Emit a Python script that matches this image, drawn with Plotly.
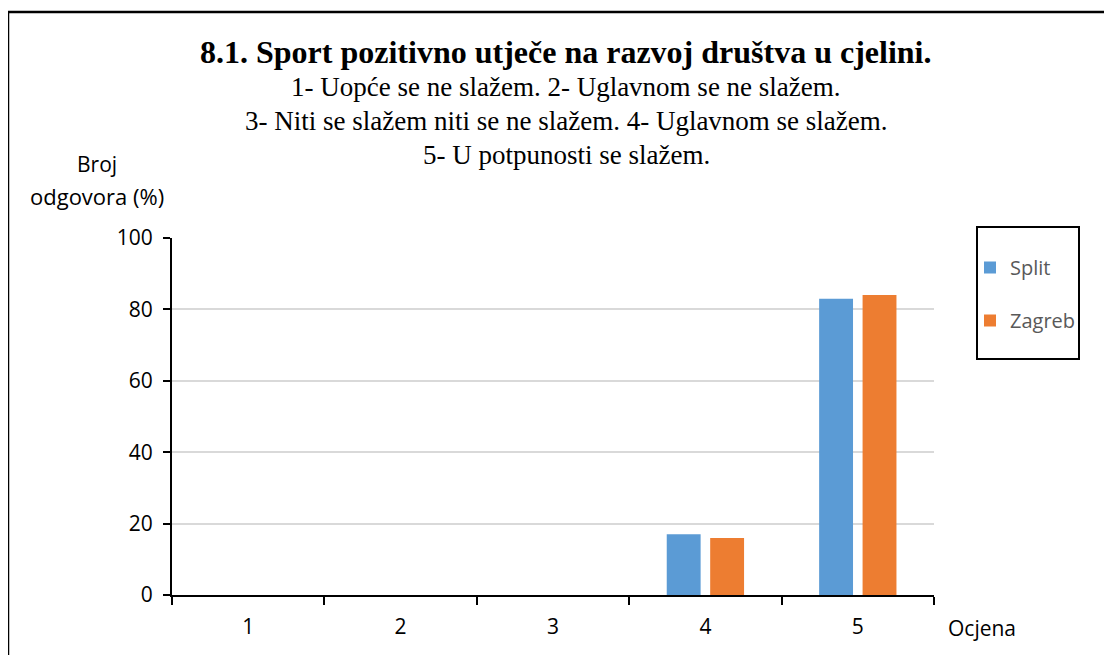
import plotly.graph_objects as go

categories = ["1", "2", "3", "4", "5"]
split_vals = [0, 0, 0, 17, 83]
zagreb_vals = [0, 0, 0, 16, 84]
series_names = ["Split", "Zagreb"]
y_ticks = [0, 20, 40, 60, 80, 100]

title_line = "8.1. Sport pozitivno utječe na razvoj društva u cjelini."
sub_lines = [
    "1- Uopće se ne slažem. 2- Uglavnom se ne slažem.",
    "3- Niti se slažem niti se ne slažem. 4- Uglavnom se slažem.",
    "5- U potpunosti se slažem.",
]

OFF = 8  # page body margin
W, H = 1112 - OFF, 655 - OFF
# plot area in page pixels
L, R, T, B = 172, 934, 238, 595

def px(x):
    return (x - L) / (R - L)

def py(y):
    return (B - y) / (B - T)

fig = go.Figure()
fig.add_trace(go.Bar(x=categories, y=split_vals, name=series_names[0],
                     marker=dict(color="#5B9BD5", line=dict(width=0)), legendgroup="a"))
fig.add_trace(go.Bar(x=categories, y=zagreb_vals, name=series_names[1],
                     marker=dict(color="#ED7D31", line=dict(width=0)), legendgroup="b"))

font_sans = "Open Sans"
font_serif = "Liberation Serif"

annotations = [
    dict(text="<b>" + title_line + "</b>", x=px(566), y=py(52), xref="paper", yref="paper",
         showarrow=False, font=dict(family=font_serif, size=32, color="#000000"),
         xanchor="center", yanchor="middle"),
]
for i, s in enumerate(sub_lines):
    annotations.append(dict(text=s, x=px(566), y=py(87 + 34 * i), xref="paper", yref="paper",
                            showarrow=False, font=dict(family=font_serif, size=27, color="#000000"),
                            xanchor="center", yanchor="middle"))
annotations.append(dict(text="Broj", x=px(97), y=py(164), xref="paper", yref="paper",
                        showarrow=False, font=dict(family=font_sans, size=21, color="#000000"),
                        xanchor="center", yanchor="middle"))
annotations.append(dict(text="odgovora (%)", x=px(97), y=py(196), xref="paper", yref="paper",
                        showarrow=False, font=dict(family=font_sans, size=22, color="#000000"),
                        xanchor="center", yanchor="middle"))
annotations.append(dict(text="Ocjena", x=px(946), y=py(628), xref="paper", yref="paper",
                        showarrow=False, font=dict(family=font_sans, size=21, color="#000000"),
                        xanchor="left", yanchor="middle"))

shapes = [
    dict(type="line", xref="paper", yref="paper", x0=px(8), y0=py(700), x1=px(8), y1=py(12),
         line=dict(color="#000000", width=2.5)),
    dict(type="line", xref="paper", yref="paper", x0=px(7), y0=py(12), x1=px(1200), y1=py(12),
         line=dict(color="#000000", width=2.5)),
    dict(type="rect", xref="paper", yref="paper", x0=px(977), y0=py(359), x1=px(1079), y1=py(227),
         line=dict(color="#000000", width=2)),
]

fig.update_layout(
    width=W, height=H,
    margin=dict(l=L - OFF, r=(W + OFF) - R, t=T - OFF, b=(H + OFF) - B, autoexpand=False),
    paper_bgcolor="#FFFFFF", plot_bgcolor="#FFFFFF",
    barmode="group", bargap=0.43, bargroupgap=0.22,
    showlegend=True,
    legend=dict(x=px(970), y=py(248), xanchor="left", yanchor="top",
                font=dict(family=font_sans, size=20, color="#595959"),
                bgcolor="rgba(0,0,0,0)", borderwidth=0,
                traceorder="grouped", tracegroupgap=24),
    annotations=annotations,
    shapes=shapes,
    xaxis=dict(type="category", showgrid=False, showline=True, linecolor="#000000", linewidth=2,
               ticks="outside", tickson="boundaries", ticklen=8, tickwidth=2, tickcolor="#000000",
               ticklabelstandoff=12,
               tickfont=dict(family=font_sans, size=21, color="#000000"), fixedrange=True),
    yaxis=dict(range=[0, 100], tickvals=y_ticks, showgrid=True, gridcolor="#D9D9D9", gridwidth=1.5,
               showline=True, linecolor="#000000", linewidth=2, zeroline=False,
               ticks="outside", ticklen=7, tickwidth=2, tickcolor="#000000",
               ticklabelstandoff=6,
               tickfont=dict(family=font_sans, size=21, color="#000000"), fixedrange=True),
)

fig.write_html("out.html")
